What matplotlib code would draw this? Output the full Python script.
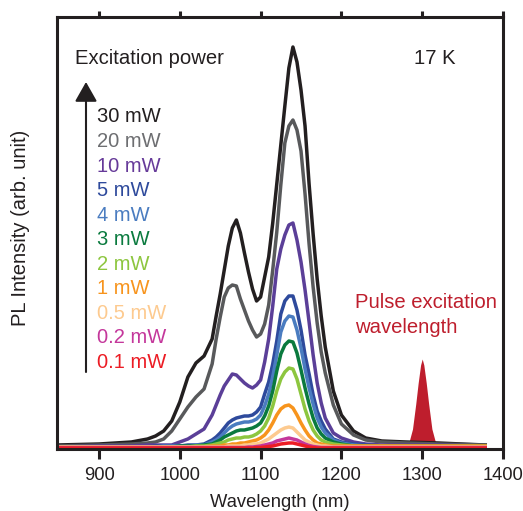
import matplotlib
matplotlib.use("Agg")
import matplotlib.pyplot as plt

plt.rcParams['font.family'] = ['Liberation Sans', 'DejaVu Sans']

# wavelength grid (nm) shared by all PL spectra
wl = [848, 900, 940, 960, 970, 980, 990, 1000, 1010, 1020, 1030, 1040,
      1045, 1050, 1055, 1060, 1065, 1070, 1075, 1080, 1085, 1090, 1095, 1100,
      1105, 1110, 1115, 1120, 1125, 1130, 1135, 1140, 1145, 1150, 1155, 1160,
      1165, 1170, 1175, 1180, 1190, 1200, 1215, 1230, 1250, 1280, 1320, 1378]

# PL intensity (arb. unit)
pl_30 = [4, 5, 7, 10, 13, 18, 28, 47, 72, 86, 93, 110,
         133, 155, 179, 203, 221, 229, 216, 196, 177, 160, 148, 152,
         172, 192, 226, 265, 304, 343, 381, 402, 387, 359, 323, 265,
         215, 170, 133, 102, 58, 34, 18, 11, 8, 7, 6, 4]
pl_20 = [3, 4, 5, 6, 7, 10, 18, 30, 42, 52, 60, 85,
         110, 132, 152, 161, 164, 163, 150, 139, 128, 119, 112, 115,
         125, 144, 179, 217, 264, 306, 323, 329, 319, 298, 255, 205,
         162, 126, 97, 76, 44, 25, 14, 9, 7, 6, 5, 4]
pl_10 = [2, 3, 3, 4, 4, 4, 4, 7, 10, 15, 20, 34,
         44, 54, 63, 69, 75, 74, 70, 66, 63, 61, 64, 69,
         87, 110, 143, 180, 200, 214, 224, 226, 209, 187, 159, 127,
         94, 66, 46, 31, 16, 11, 7, 5, 4, 4, 4, 3]
pl_5 = [2, 2, 2, 2, 3, 3, 3, 3, 4, 4, 5, 9,
        12, 16, 21, 26, 29, 31, 32, 33, 33, 34, 37, 42,
        55, 67, 85, 108, 135, 148, 153, 153, 139, 119, 94, 75,
        54, 38, 28, 20, 10, 7, 5, 4, 3, 3, 3, 3]
pl_4 = [2, 2, 2, 2, 2, 3, 3, 3, 3, 4, 4, 7,
        9, 12, 16, 20, 23, 25, 26, 27, 27, 28, 30, 34,
        43, 55, 72, 94, 117, 128, 133, 132, 119, 101, 80, 61,
        45, 31, 22, 16, 9, 6, 4, 3, 3, 3, 3, 3]
pl_3 = [2, 2, 2, 2, 2, 2, 2, 3, 3, 3, 4, 5,
        7, 9, 12, 14, 16, 18, 19, 19, 20, 21, 23, 26,
        33, 43, 58, 78, 95, 104, 108, 107, 96, 79, 61, 45,
        31, 21, 15, 11, 7, 5, 3, 3, 3, 3, 3, 3]
pl_2 = [2, 2, 2, 2, 2, 2, 2, 2, 2, 3, 3, 4,
        5, 6, 7, 9, 10, 11, 11, 12, 12, 13, 15, 18,
        23, 31, 43, 58, 70, 77, 81, 80, 70, 55, 40, 28,
        19, 13, 9, 7, 5, 4, 3, 3, 3, 3, 3, 3]
pl_1 = [2, 2, 2, 2, 2, 2, 2, 2, 2, 2, 2, 3,
        3, 3, 4, 4, 5, 5, 6, 6, 7, 8, 9, 11,
        14, 19, 26, 34, 40, 43, 44, 41, 34, 26, 19, 13,
        9, 6, 5, 4, 3, 3, 3, 3, 3, 3, 3, 3]
pl_05 = [2, 2, 2, 2, 2, 2, 2, 2, 2, 2, 2, 2,
         2, 2, 2, 3, 3, 3, 3, 4, 4, 5, 5, 6,
         8, 10, 13, 16, 19, 21, 22, 21, 17, 13, 9, 7,
         5, 4, 3, 3, 2, 2, 2, 2, 2, 2, 2, 2]
pl_02 = [1.5, 1.5, 1.5, 1.5, 1.5, 1.5, 1.5, 1.5, 1.5, 1.5, 1.5, 1.5,
         1.5, 1.5, 1.5, 1.5, 1.5, 1.5, 1.5, 1.5, 2, 2, 2.5, 3,
         4, 5, 6, 8, 9, 10, 11, 10, 9, 7, 5, 3.5,
         2.5, 2, 1.5, 1.5, 1.5, 1.5, 1.5, 1.5, 1.5, 1.5, 1.5, 1.5]
pl_01 = [1, 1, 1, 1, 1, 1, 1, 1, 1, 1, 1, 1,
         1, 1, 1, 1, 1, 1, 1, 1, 1, 1, 1.5, 1.5,
         2, 2.5, 3, 4, 5, 5.5, 6, 6, 5, 4, 3, 2,
         1.5, 1, 1, 1, 1, 1, 1, 1, 1, 1, 1, 1]

powers = ["30 mW", "20 mW", "10 mW", "5 mW", "4 mW", "3 mW", "2 mW", "1 mW",
          "0.5 mW", "0.2 mW", "0.1 mW"]
spectra = [pl_30, pl_20, pl_10, pl_5, pl_4, pl_3, pl_2, pl_1, pl_05, pl_02, pl_01]
colors = ["#231f20", "#58595b", "#5b3f98", "#2e4a9c", "#4a7cc0", "#0a7a3e",
          "#8dc63f", "#f7941d", "#fdca8f", "#c4379b", "#ec1c24"]
text_colors = ["#231f20", "#6d6e71", "#663a99", "#2e4a9c", "#4a7cc0", "#0a7a3e",
               "#8dc63f", "#f7941d", "#fdca8f", "#c4379b", "#ec1c24"]

# excitation pulse
pulse_wl = [1280, 1284, 1288, 1292, 1295, 1298, 1300, 1302, 1305, 1308, 1312, 1316, 1320]
pulse_int = [3, 8, 20, 45, 66, 84, 90, 84, 66, 45, 20, 8, 3]
pulse_color = "#be1e2d"

ink = "#231f20"

fig = plt.figure(figsize=(5.23, 5.11), dpi=100)
ax = fig.add_axes([57/523, 62/511, 446/523, 432/511])

ax.fill_between(pulse_wl, pulse_int, 0, color=pulse_color, lw=0, zorder=1)
for s, c in zip(spectra, colors):
    ax.plot(wl, s, color=c, lw=2.5, solid_joinstyle='round', zorder=2)

ax.set_xlim(848, 1400)
ax.set_ylim(0, 432)
ax.set_xticks([900, 1000, 1100, 1200, 1300, 1400])
ax.set_yticks([])
for sp in ax.spines.values():
    sp.set_linewidth(2.2)
    sp.set_color(ink)
ax.tick_params(axis='x', direction='out', length=7, width=2.2, color=ink,
               labelsize=13.2, labelcolor=ink, pad=6)
top = ax.secondary_xaxis('top')
top.set_xticks([900, 1000, 1100, 1200, 1300, 1400])
top.tick_params(direction='out', length=4.5, width=2.2, color=ink, labeltop=False)
top.spines['top'].set_visible(False)

ax.set_xlabel("Wavelength (nm)", fontsize=13.2, color=ink, labelpad=7)
fig.text(21/523, 1 - 228/511, "PL Intensity (arb. unit)", rotation=90,
         fontsize=14.5, color=ink, ha='center', va='center')

def fx(px):
    return px / 523

def fy(py):
    return 1 - py / 511

fig.text(fx(75), fy(58), "Excitation power", fontsize=14.6, color=ink, va='center')
fig.text(fx(414), fy(58), "17 K", fontsize=14.6, color=ink, va='center')
for i, (p, c) in enumerate(zip(powers, text_colors)):
    fig.text(fx(97), fy(117 + i * 24.5), p, fontsize=14.5, color=c, va='center')

ax.annotate('', xy=(fx(86), fy(82)), xytext=(fx(86), fy(372)),
            xycoords='figure fraction', textcoords='figure fraction',
            arrowprops=dict(arrowstyle='-|>,head_length=0.6,head_width=0.34',
                            mutation_scale=20, lw=1.5, color=ink,
                            shrinkA=0, shrinkB=0))

fig.text(fx(355), fy(302), "Pulse excitation", fontsize=14.6, color=pulse_color, va='center')
fig.text(fx(355), fy(327), "wavelength", fontsize=14.6, color=pulse_color, va='center')

fig.savefig("out.png", dpi=100)
